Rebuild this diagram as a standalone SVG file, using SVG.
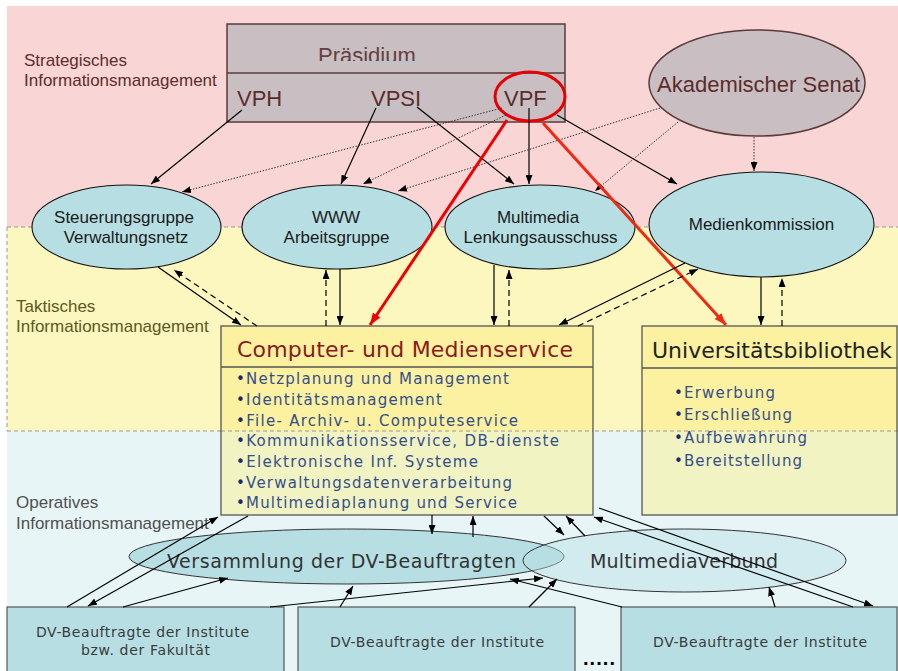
<svg xmlns="http://www.w3.org/2000/svg" width="898" height="671" viewBox="0 0 898 671">
  <defs>
    <marker id="ah" viewBox="0 0 9 7" refX="9" refY="3.5" markerWidth="9" markerHeight="7" markerUnits="userSpaceOnUse" orient="auto">
      <path d="M0,0 L9,3.5 L0,7 z" fill="#000"/>
    </marker>
    <marker id="ahr" viewBox="0 0 12 9" refX="12" refY="4.5" markerWidth="12" markerHeight="9" markerUnits="userSpaceOnUse" orient="auto">
      <path d="M0,0 L12,4.5 L0,9 z" fill="#F00000"/>
    </marker>
    <marker id="aho" viewBox="0 0 12 9" refX="12" refY="4.5" markerWidth="12" markerHeight="9" markerUnits="userSpaceOnUse" orient="auto">
      <path d="M0,0 L12,4.5 L0,9 z" fill="#F02A10"/>
    </marker>
    <clipPath id="presClip">
      <rect x="300" y="30" width="140" height="31"/>
    </clipPath>
  </defs>
  <style>
    .arial { font-family: "Liberation Sans", Arial, sans-serif; }
    .wide { font-family: "DejaVu Sans", Verdana, sans-serif; }
    .lvl { font-size: 17px; }
    .vp { font-size: 22px; fill: #5b2c2c; }
    .grey { fill: #C9BFC2; stroke: #5a3a3a; stroke-width: 1.5; }
    .teal { fill: #B7DFE3; stroke: #111; stroke-width: 1.1; }
    .etext { font-size: 17px; fill: #1a1a1a; text-anchor: middle; }
    .box { fill: none; stroke: #555; stroke-width: 1.3; }
    .item { font-size: 15px; fill: #34508c; }
    .bul { fill: #1a2a70; }
    .band { stroke: #999; stroke-width: 1; stroke-dasharray: 4 3; fill: none; }
    .s { stroke: #000; stroke-width: 1.2; fill: none; marker-end: url(#ah); }
    .d { stroke: #333; stroke-width: 1; stroke-dasharray: 1.5 1.5; fill: none; marker-end: url(#ah); }
    .ds { stroke: #000; stroke-width: 1.2; stroke-dasharray: 6 4; fill: none; marker-end: url(#ah); }
    .r { stroke: #F00000; stroke-width: 3; fill: none; marker-end: url(#ahr); }
    .ro { stroke: #F02A10; stroke-width: 3; fill: none; marker-end: url(#aho); }
    .btext { font-size: 14px; fill: #3a3a3a; }
  </style>

  <!-- management levels -->
  <g id="bands">
    <rect x="0" y="0" width="898" height="671" fill="#fff"/>
    <rect x="7" y="6" width="891" height="221" fill="#FAD5D5"/>
    <rect x="7" y="227" width="891" height="204" fill="#FCF6BF"/>
    <rect x="7" y="431" width="891" height="240" fill="#E7F5F7"/>
    <path class="band" d="M7,227 H898 M7,227 V431 M7,431 H898"/>
    <text class="arial lvl" fill="#5b2d2d" x="24" y="65.5">Strategisches</text>
    <text class="arial lvl" fill="#5b2d2d" x="24" y="86">Informationsmanagement</text>
    <text class="arial lvl" fill="#5a5a1e" x="16" y="312">Taktisches</text>
    <text class="arial lvl" fill="#5a5a1e" x="16" y="332">Informationsmanagement</text>
    <text class="arial lvl" fill="#505050" x="16" y="508">Operatives</text>
    <text class="arial lvl" fill="#505050" x="16" y="529">Informationsmanagement</text>
  </g>

  <!-- Präsidium with vice presidents -->
  <g id="praesidium">
    <rect class="grey" x="227" y="24" width="338" height="98"/>
    <line x1="227" y1="73" x2="565" y2="73" stroke="#5a3a3a" stroke-width="1.5"/>
    <text class="arial" font-size="22" fill="#654040" x="318" y="63" clip-path="url(#presClip)">Präsidium</text>
    <line x1="370" y1="62" x2="420" y2="62" stroke="#a9c6cf" stroke-width="1"/>
    <text class="arial vp" x="237" y="106">VPH</text>
    <text class="arial vp" x="371" y="106">VPSI</text>
    <line x1="371" y1="107" x2="420" y2="107" stroke="#a9c6cf" stroke-width="1"/>
    <text class="arial vp" x="504" y="106">VPF</text>
    <ellipse cx="530" cy="96.5" rx="35" ry="24.5" fill="none" stroke="#E80000" stroke-width="3"/>
  </g>

  <g id="senat">
    <ellipse class="grey" cx="757" cy="83" rx="108" ry="53" stroke-width="1.2"/>
    <text class="arial" font-size="22" fill="#5b2c2c" x="758.5" y="91.5" text-anchor="middle">Akademischer Senat</text>
  </g>

  <!-- tactical committees -->
  <g id="steuerungsgruppe">
    <ellipse class="teal" cx="126.5" cy="227" rx="94.5" ry="42"/>
    <text class="arial etext" x="124" y="223">Steuerungsgruppe</text>
    <text class="arial etext" x="126" y="243">Verwaltungsnetz</text>
  </g>
  <g id="www">
    <ellipse class="teal" cx="337" cy="227" rx="95" ry="42"/>
    <text class="arial etext" x="336" y="223">WWW</text>
    <text class="arial etext" x="336.5" y="243">Arbeitsgruppe</text>
  </g>
  <g id="multimedia-lenkung">
    <ellipse class="teal" cx="540" cy="227" rx="95" ry="42"/>
    <text class="arial etext" x="538" y="223">Multimedia</text>
    <text class="arial etext" x="540.5" y="243">Lenkungsausschuss</text>
  </g>
  <g id="medienkommission">
    <ellipse class="teal" cx="761.5" cy="224.5" rx="112.5" ry="52.5"/>
    <text class="arial etext" font-size="15.5" x="761.5" y="230">Medienkommission</text>
  </g>

  <!-- service units -->
  <g id="cms">
    <rect x="221" y="326" width="372" height="105" fill="#FBF1A0"/>
    <rect x="221" y="431" width="372" height="84" fill="#F2F3C3"/>
    <line class="band" x1="221" y1="431" x2="593" y2="431"/>
    <rect class="box" x="221" y="326" width="372" height="189"/>
    <line x1="221" y1="367" x2="593" y2="367" stroke="#555" stroke-width="1.3"/>
    <text class="wide" font-size="22" fill="#8B1A1A" x="237" y="357" textLength="336" lengthAdjust="spacing">Computer- und Medienservice</text>
    <text class="wide item" x="236" y="384" textLength="273" lengthAdjust="spacing"><tspan class="bul">•</tspan>Netzplanung und Management</text>
    <text class="wide item" x="236" y="405" textLength="206" lengthAdjust="spacing"><tspan class="bul">•</tspan>Identitätsmanagement</text>
    <text class="wide item" x="236" y="426" textLength="282" lengthAdjust="spacing"><tspan class="bul">•</tspan>File- Archiv- u. Computeservice</text>
    <text class="wide item" x="236" y="446" textLength="323" lengthAdjust="spacing"><tspan class="bul">•</tspan>Kommunikationsservice, DB-dienste</text>
    <text class="wide item" x="236" y="467" textLength="242" lengthAdjust="spacing"><tspan class="bul">•</tspan>Elektronische Inf. Systeme</text>
    <text class="wide item" x="236" y="488" textLength="276" lengthAdjust="spacing"><tspan class="bul">•</tspan>Verwaltungsdatenverarbeitung</text>
    <text class="wide item" x="236" y="508" textLength="281" lengthAdjust="spacing"><tspan class="bul">•</tspan>Multimediaplanung und Service</text>
  </g>
  <g id="ub">
    <rect x="642" y="326" width="255" height="105" fill="#FBF1A0"/>
    <rect x="642" y="431" width="255" height="84" fill="#F2F3C3"/>
    <line class="band" x1="642" y1="431" x2="897" y2="431"/>
    <rect class="box" x="642" y="326" width="255" height="189"/>
    <line x1="642" y1="368" x2="897" y2="368" stroke="#555" stroke-width="1.3"/>
    <text class="wide" font-size="22" fill="#222" x="652" y="358" textLength="240" lengthAdjust="spacing">Universitätsbibliothek</text>
    <text class="wide item" x="674" y="398" textLength="101" lengthAdjust="spacing"><tspan class="bul">•</tspan>Erwerbung</text>
    <text class="wide item" x="674" y="420" textLength="118" lengthAdjust="spacing"><tspan class="bul">•</tspan>Erschließung</text>
    <text class="wide item" x="674" y="443" textLength="133" lengthAdjust="spacing"><tspan class="bul">•</tspan>Aufbewahrung</text>
    <text class="wide item" x="674" y="466" textLength="128" lengthAdjust="spacing"><tspan class="bul">•</tspan>Bereitstellung</text>
  </g>

  <!-- operative level -->
  <g id="versammlung">
    <ellipse cx="346.5" cy="556.5" rx="217.5" ry="27.5" fill="#B7DFE3" stroke="#333" stroke-width="1"/>
    <text class="wide" font-size="19" fill="#333" x="167" y="568" textLength="349" lengthAdjust="spacing">Versammlung der DV-Beauftragten</text>
  </g>
  <g id="multimediaverbund">
    <ellipse cx="684.5" cy="560.5" rx="161.5" ry="31.5" fill="#B7DFE3" fill-opacity="0.45" stroke="#333" stroke-width="1"/>
    <text class="wide" font-size="19" fill="#333" x="590" y="568" textLength="188" lengthAdjust="spacing">Multimediaverbund</text>
  </g>
  <g id="dv-fakultaet">
    <rect x="7" y="607" width="277" height="75" fill="#B7DFE3" stroke="#555" stroke-width="1.2"/>
    <text class="wide btext" x="36" y="637" textLength="213" lengthAdjust="spacing">DV-Beauftragte der Institute</text>
    <text class="wide btext" x="81" y="655" textLength="129" lengthAdjust="spacing">bzw. der Fakultät</text>
  </g>
  <g id="dv-institute-1">
    <rect x="298" y="607" width="277" height="75" fill="#B7DFE3" stroke="#555" stroke-width="1.2"/>
    <text class="wide btext" x="330" y="647" textLength="214" lengthAdjust="spacing">DV-Beauftragte der Institute</text>
  </g>
  <g id="dv-institute-2">
    <rect x="621" y="607" width="276" height="75" fill="#B7DFE3" stroke="#555" stroke-width="1.2"/>
    <text class="wide btext" x="653" y="647" textLength="214" lengthAdjust="spacing">DV-Beauftragte der Institute</text>
  </g>
  <text class="arial" font-size="20" font-weight="bold" fill="#000" x="583" y="665" textLength="32" lengthAdjust="spacing">.....</text>

  <!-- connectors -->
  <g id="connectors">
    <!-- strategic to tactical -->
    <path class="s" d="M242,110 L151,184"/>
    <path class="s" d="M376,108 L341,184"/>
    <path class="s" d="M417,107 L514,184"/>
    <path class="s" d="M529,108 L529,184"/>
    <path class="s" d="M557,115 L677,184"/>
    <path class="d" d="M502,108 L182,192"/>
    <path class="d" d="M506,115 L363,184"/>
    <path class="d" d="M660,108 L398,191"/>
    <path class="d" d="M678,122 L595,191"/>
    <path class="d" d="M754,137 L754,171"/>
    <path class="r" d="M507,120 L370,325"/>
    <path class="ro" d="M543,123 L726,325"/>
    <!-- tactical committees and service units -->
    <path class="s" d="M158,267 L241,325"/>
    <path class="ds" d="M257,326 L174,270"/>
    <path class="ds" d="M326,326 L326,270"/>
    <path class="s" d="M340,269 L340,325"/>
    <path class="s" d="M494,265 L494,325"/>
    <path class="ds" d="M509,326 L509,270"/>
    <path class="s" d="M685,263 L559,325"/>
    <path class="ds" d="M578,326 L698,269"/>
    <path class="s" d="M761,277 L761,325"/>
    <path class="ds" d="M782,326 L782,278"/>
    <!-- operative level -->
    <path class="s" d="M67,607 L218,517"/>
    <path class="s" d="M248,516 L88,606"/>
    <path class="s" d="M123,607 L228,578"/>
    <path class="s" d="M340,607 L353,586"/>
    <path class="s" d="M270,607 L543,578"/>
    <path class="s" d="M622,607 L510,579"/>
    <path class="s" d="M529,607 L557,579"/>
    <path class="s" d="M775,607 L769,587"/>
    <path class="s" d="M432,515 L432,534"/>
    <path class="s" d="M473,537 L473,516"/>
    <path class="s" d="M544,516 L564,535"/>
    <path class="s" d="M585,536 L566,516"/>
    <path class="s" d="M853,607 L594,517"/>
    <path class="s" d="M599,508 L873,606"/>
  </g>
</svg>
